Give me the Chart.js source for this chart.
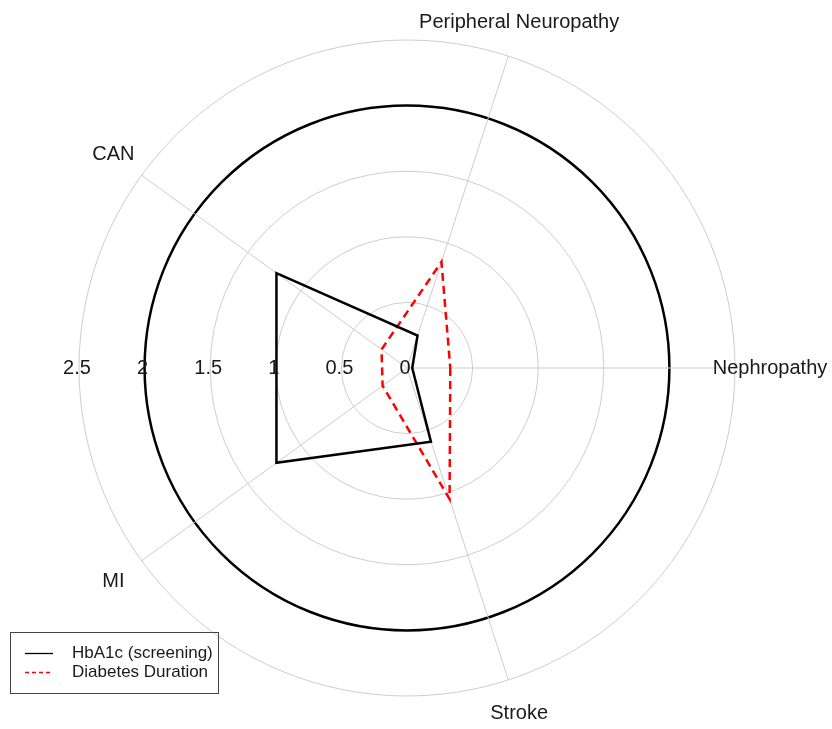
<!DOCTYPE html>
<html>
<head>
<meta charset="utf-8">
<title>Spider plot</title>
<script src="https://cdn.jsdelivr.net/npm/chart.js@4.4.0/dist/chart.umd.min.js"></script>
<style>
  html, body { margin: 0; padding: 0; background: #fff; }
  #wrap { width: 832px; height: 729px; }
</style>
</head>
<body>
<div id="wrap"><canvas id="radarChart" width="832" height="729"></canvas></div>
<script>
// axes, listed clockwise starting from the right-hand one
const categories = ['Nephropathy', 'Stroke', 'MI', 'CAN', 'Peripheral Neuropathy'];
const hba1cValues = [0.04, 0.59, 1.23, 1.23, 0.26];
const durationValues = [0.33, 1.05, 0.23, 0.24, 0.85];
const tickValues = [0, 0.5, 1, 1.5, 2, 2.5];
const seriesNames = ['HbA1c (screening)', 'Diabetes Duration'];

const FONT = '"Liberation Sans", Arial, Helvetica, sans-serif';
const GRID_GREY = '#cdcdcd';

document.addEventListener('DOMContentLoaded', function() {
    const ctxEl = document.getElementById('radarChart');

    // axis names + ring values (ring values run along the left horizontal)
    const spiderLabels = {
        id: 'spiderLabels',
        afterDraw(chart) {
            const ctx = chart.ctx;
            const r = chart.scales.r;
            ctx.save();
            ctx.fillStyle = '#1a1a1a';
            ctx.font = '20px ' + FONT;
            ctx.textAlign = 'center';
            ctx.textBaseline = 'middle';
            categories.forEach((name, i) => {
                const p = r.getPointPosition(i, r.drawingArea + 35);
                ctx.fillText(name, p.x, p.y);
            });
            tickValues.forEach(v => {
                const d = r.getDistanceFromCenterForValue(v);
                ctx.fillText(String(v), r.xCenter - d - 2, r.yCenter);
            });
            ctx.restore();
        }
    };

    // boxed legend, bottom left
    const boxLegend = {
        id: 'boxLegend',
        afterDraw(chart) {
            const ctx = chart.ctx;
            ctx.save();
            ctx.strokeStyle = '#444';
            ctx.lineWidth = 1;
            ctx.strokeRect(10.5, 632.5, 208, 61);
            ctx.font = '17px ' + FONT;
            ctx.textAlign = 'left';
            ctx.textBaseline = 'middle';
            chart.data.datasets.forEach((ds, i) => {
                const y = 653 + i * 19;
                ctx.strokeStyle = ds.borderColor;
                ctx.lineWidth = 1.3;
                ctx.setLineDash(ds.borderDash && ds.borderDash.length ? [4, 3] : []);
                ctx.beginPath();
                ctx.moveTo(25, y + 0.5);
                ctx.lineTo(53, y + 0.5);
                ctx.stroke();
                ctx.setLineDash([]);
                ctx.fillStyle = '#1a1a1a';
                ctx.fillText(ds.label, 72, y);
            });
            ctx.restore();
        }
    };

    new Chart(ctxEl, {
        type: 'radar',
        data: {
            labels: categories,
            datasets: [{
                label: seriesNames[0],
                data: hba1cValues,
                borderColor: '#000000',
                borderWidth: 2.5,
                fill: false,
                pointRadius: 0
            }, {
                label: seriesNames[1],
                data: durationValues,
                borderColor: '#ff0000',
                borderWidth: 2.5,
                borderDash: [8, 5],
                fill: false,
                pointRadius: 0
            }]
        },
        options: {
            responsive: false,
            animation: false,
            layout: { padding: { left: 79, right: 97, top: 40, bottom: 33 } },
            plugins: {
                legend: { display: false },
                tooltip: { enabled: false }
            },
            scales: {
                r: {
                    min: 0,
                    max: 2.5,
                    startAngle: 90,
                    ticks: { display: false, stepSize: 0.5 },
                    pointLabels: { display: false },
                    grid: {
                        circular: true,
                        color: c => (c.tick && c.tick.value === 2) ? '#000000' : GRID_GREY,
                        lineWidth: c => (c.tick && c.tick.value === 2) ? 2.5 : 1
                    },
                    angleLines: { color: GRID_GREY, lineWidth: 1 }
                }
            }
        },
        plugins: [spiderLabels, boxLegend]
    });
});
</script>
</body>
</html>
